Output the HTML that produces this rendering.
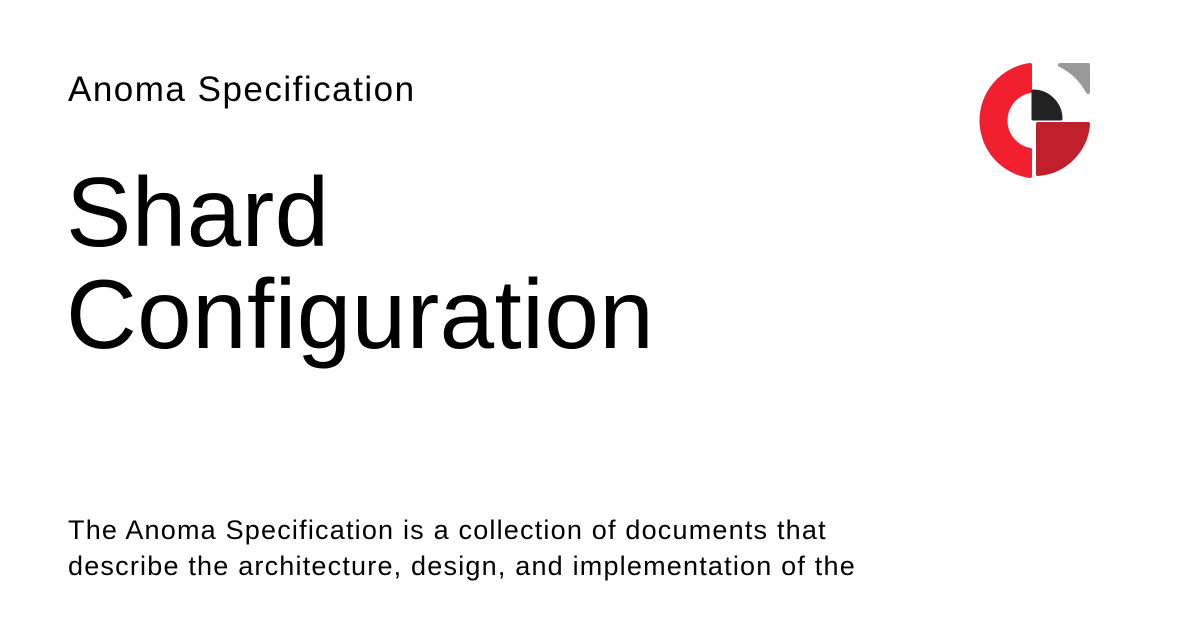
<!DOCTYPE html>
<html><head><meta charset="utf-8"><style>
body{margin:0;width:1200px;height:630px;background:#fff;font-family:"Liberation Sans",sans-serif;color:#000;position:relative;overflow:hidden}
.a{position:absolute;left:68px;top:70px;font-size:35px;letter-spacing:1.5px;white-space:nowrap}
.t{position:absolute;left:66px;top:161px;font-size:98px;line-height:102px;letter-spacing:0.4px;white-space:nowrap}
.d{position:absolute;left:68px;top:512px;font-size:27px;line-height:36px;letter-spacing:1.2px;white-space:nowrap}
svg{position:absolute;left:0;top:0}
</style></head><body>
<div class="a">Anoma Specification</div>
<div class="t">Shard<br>Configuration</div>
<div class="d">The Anoma Specification is a collection of documents that<br>describe the architecture, design, and implementation of the</div>
<svg width="1200" height="630">
<path d="M1030 65 A56 56 0 0 0 1030 176 L1030 150 A30 30 0 0 1 1030 91 Z" fill="#f21f2f" stroke="#f21f2f" stroke-width="4" stroke-linejoin="round"/>
<path d="M1038 124 L1088 124 A54 54 0 0 1 1038 174 Z" fill="#c0202c" stroke="#c0202c" stroke-width="4" stroke-linejoin="round"/>
<path d="M1033 91 A28 28 0 0 1 1061 119 L1033 119 Z" fill="#222" stroke="#222" stroke-width="3" stroke-linejoin="round"/>
<path d="M1060 65 L1088 65 L1088 92 A63 63 0 0 0 1060 65 Z" fill="#999" stroke="#999" stroke-width="4" stroke-linejoin="round"/>
</svg>
</body></html>
